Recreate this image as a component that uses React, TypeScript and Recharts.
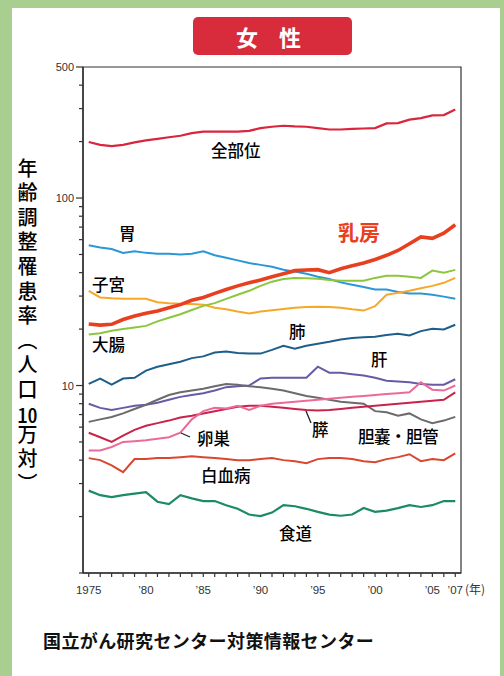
import { LineChart, Line, XAxis, YAxis, ReferenceArea } from 'recharts'

const years = [
    1975, 1976, 1977, 1978, 1979, 1980, 1981, 1982, 1983, 1984, 1985,
    1986, 1987, 1988, 1989, 1990, 1991, 1992, 1993, 1994, 1995, 1996,
    1997, 1998, 1999, 2000, 2001, 2002, 2003, 2004, 2005, 2006, 2007,
]

// 年齢調整罹患率 (人口10万対)
const allSites = [199, 192, 189, 192, 198, 203, 207, 211, 215, 222, 226, 226, 226, 226, 228, 236, 240, 243, 241, 240, 236, 232, 232, 234, 235, 236, 250, 251, 262, 267, 276, 277, 297]
const stomach = [56, 54.5, 53.5, 51, 52, 51, 50.5, 50.5, 50, 50.4, 52, 49.5, 48, 46.5, 45, 44, 43, 41.5, 40.5, 39.5, 38, 37, 35.5, 34.5, 33.5, 32.5, 32.5, 31.5, 31, 31, 30.5, 29.8, 29]
const breast = [21.3, 21, 21.2, 22.5, 23.5, 24.3, 25, 26, 27, 28.5, 29.5, 31, 32.5, 34, 35.3, 36.5, 38, 39.5, 41, 41.3, 41.5, 40, 42, 43.5, 45, 47, 49.5, 52.5, 57, 62, 61, 65, 72]
const uterus = [32, 29.5, 29.2, 29, 29, 29, 27.8, 27.5, 27.3, 27.2, 27, 26, 25.5, 24.8, 24.2, 24.8, 25.2, 25.6, 26, 26.2, 26.3, 26.2, 26, 25.5, 25.1, 26.5, 30.5, 31.2, 32, 33, 34, 35.3, 37.5]
const colon = [18.7, 19, 19.6, 20, 20.4, 20.8, 22, 23, 24, 25.3, 26.6, 27.5, 29, 30.5, 32, 34, 35.8, 37, 37.5, 37.3, 37.1, 36.5, 36.2, 36.2, 36.2, 37.5, 38.5, 38.5, 38, 37.5, 41, 40, 41.4]
const lung = [10.2, 10.9, 10.1, 10.9, 11, 12, 12.6, 13, 13.4, 14, 14.3, 15, 15.2, 14.9, 14.8, 14.8, 15.5, 16.3, 15.7, 16.3, 16.7, 17.1, 17.6, 17.9, 18.1, 18.2, 18.6, 18.9, 18.5, 19.5, 20.1, 19.9, 21.1]
const liver = [8, 7.6, 7.4, 7.6, 7.8, 7.9, 8.1, 8.4, 8.7, 8.9, 9.1, 9.4, 9.8, 9.9, 10, 10.9, 11, 11, 11, 11, 12.6, 11.7, 11.7, 11.5, 11.3, 11, 10.6, 10.5, 10.4, 10.2, 10.1, 10.1, 10.8]
const gallbladder = [6.4, 6.6, 6.8, 7.1, 7.5, 7.9, 8.4, 8.9, 9.2, 9.4, 9.6, 9.9, 10.2, 10.1, 9.9, 9.8, 9.6, 9.4, 9.1, 8.8, 8.6, 8.4, 8.2, 8.1, 8, 7.3, 7.2, 6.9, 7.1, 6.6, 6.3, 6.5, 6.8]
const pancreas = [5.6, 5.3, 5, 5.4, 5.8, 6.1, 6.3, 6.5, 6.75, 6.9, 7.1, 7.3, 7.5, 7.7, 7.8, 7.8, 7.7, 7.6, 7.5, 7.4, 7.35, 7.4, 7.5, 7.6, 7.7, 7.8, 7.9, 8, 8.1, 8.2, 8.3, 8.4, 9.2]
const ovary = [4.5, 4.5, 4.7, 5, 5.05, 5.1, 5.2, 5.3, 5.6, 6.6, 7.3, 7.6, 7.55, 7.8, 7.4, 7.8, 8, 8.1, 8.2, 8.3, 8.4, 8.5, 8.6, 8.7, 8.8, 8.9, 9, 9.1, 9.2, 10.4, 9.5, 9.4, 10]
const leukemia = [4.1, 4, 3.75, 3.45, 4.05, 4.05, 4.1, 4.1, 4.15, 4.2, 4.15, 4.1, 4.05, 4, 4, 4.05, 4.1, 4, 3.95, 3.85, 4.05, 4.1, 4.1, 4.05, 3.95, 3.9, 4.05, 4.15, 4.3, 3.95, 4.05, 4, 4.35]
const esophagus = [2.75, 2.6, 2.54, 2.6, 2.65, 2.7, 2.4, 2.33, 2.6, 2.5, 2.42, 2.42, 2.3, 2.2, 2.05, 2.01, 2.1, 2.3, 2.27, 2.2, 2.12, 2.05, 2.02, 2.05, 2.22, 2.12, 2.15, 2.22, 2.3, 2.25, 2.3, 2.42, 2.42]

const yTicks = [1, 2, 3, 4, 5, 6, 7, 8, 9, 10, 20, 30, 40, 50, 60, 70, 80, 90, 100, 200, 300, 400, 500]
const yTickLabels = [10, 100, 500]
const xTickLabels: Record<number, string> = {
    1975: '1975', 1980: '’80', 1985: '’85', 1990: '’90', 1995: '’95', 2000: '’00', 2005: '’05', 2007: '’07',
}

const series = [
    { key: 'all', name: '全部位', values: allSites, color: '#d7263d', width: 2.2 },
    { key: 'stomach', name: '胃', values: stomach, color: '#2a97d6', width: 2 },
    { key: 'uterus', name: '子宮', values: uterus, color: '#f5a82a', width: 2 },
    { key: 'colon', name: '大腸', values: colon, color: '#8cc63e', width: 2 },
    { key: 'lung', name: '肺', values: lung, color: '#1d5f8a', width: 2 },
    { key: 'liver', name: '肝', values: liver, color: '#6a5aa5', width: 2 },
    { key: 'gallbladder', name: '胆嚢・胆管', values: gallbladder, color: '#6b6b6b', width: 2 },
    { key: 'pancreas', name: '膵', values: pancreas, color: '#c9234a', width: 2 },
    { key: 'ovary', name: '卵巣', values: ovary, color: '#ec6a98', width: 2 },
    { key: 'leukemia', name: '白血病', values: leukemia, color: '#d9472f', width: 2 },
    { key: 'esophagus', name: '食道', values: esophagus, color: '#1c8a62', width: 2.2 },
    { key: 'breast', name: '乳房', values: breast, color: '#e8401e', width: 3.6 },
]

const rows = years.map((year, i) => {
    const r: Record<string, number> = { year }
    series.forEach(s => { r[s.key] = s.values[i] })
    return r
})

const jp = '"Noto Sans CJK JP", "Noto Sans", sans-serif'

function YTick({ x, y, payload }: any) {
    const major = yTickLabels.includes(payload.value)
    const len = major ? 7 : 4
    return (
        <g>
            <line x1={x - len} x2={x} y1={y} y2={y} stroke="#333" strokeWidth={1.2} />
            {major && (
                <text x={x - len - 2} y={y} dy={4} textAnchor="end" fontSize={11} fill="#333" fontFamily="Liberation Sans, Arial">
                    {payload.value}
                </text>
            )}
        </g>
    )
}

function XTick({ x, y, payload }: any) {
    const label = xTickLabels[payload.value]
    return (
        <g>
            <line x1={x} x2={x} y1={y} y2={y + 4} stroke="#333" strokeWidth={1.2} />
            {label && (
                <text x={x} y={y + 21} textAnchor="middle" fontSize={11.5} fill="#333" fontFamily="Liberation Sans, Arial">
                    {label}
                </text>
            )}
        </g>
    )
}

const labels = [
    { text: '全部位', left: 211, top: 142 },
    { text: '胃', left: 119, top: 225 },
    { text: '子宮', left: 92, top: 276 },
    { text: '大腸', left: 92, top: 336 },
    { text: '肺', left: 289, top: 323 },
    { text: '肝', left: 371, top: 351 },
    { text: '卵巣', left: 197, top: 430 },
    { text: '膵', left: 312, top: 421 },
    { text: '胆嚢・胆管', left: 358, top: 428 },
    { text: '白血病', left: 201, top: 467 },
    { text: '食道', left: 279, top: 525 },
]

export default function App() {
    return (
        <div style={{ position: 'absolute', left: 0, top: 0, width: 504, height: 676, background: '#a8ce90', overflow: 'hidden' }}>
            <div style={{ position: 'absolute', left: 12, top: 8, right: 4, bottom: 0, background: '#fff' }} />
            <div style={{ position: 'absolute', left: 0, top: 0 }}>
                <LineChart width={504} height={676} data={rows} margin={{ top: 67, right: 43, bottom: 73, left: 43 }}>
                    <XAxis
                        dataKey="year"
                        type="number"
                        domain={[1974.5, 2007.5]}
                        allowDataOverflow
                        ticks={years}
                        interval={0}
                        height={30}
                        tickSize={0}
                        tickMargin={0}
                        tickLine={false}
                        axisLine={{ stroke: '#333', strokeWidth: 1.5 }}
                        tick={<XTick />}
                    />
                    <YAxis
                        scale="log"
                        type="number"
                        domain={[1, 500]}
                        allowDataOverflow
                        ticks={yTicks}
                        interval={0}
                        width={40}
                        tickSize={0}
                        tickMargin={0}
                        tickLine={false}
                        axisLine={{ stroke: '#333', strokeWidth: 1.5 }}
                        tick={<YTick />}
                    />
                    <ReferenceArea x1={1974.5} x2={2007.5} y1={1} y2={500} fill="none" stroke="#333" strokeWidth={1.2} />
                    {series.map(s => (
                        <Line
                            key={s.key}
                            dataKey={s.key}
                            name={s.name}
                            type="linear"
                            stroke={s.color}
                            strokeWidth={s.width}
                            dot={false}
                            isAnimationActive={false}
                        />
                    ))}
                </LineChart>
            </div>

            <div style={{ position: 'absolute', left: 193, top: 17, width: 159, height: 38, background: '#d82c3c', borderRadius: 5, color: '#fff', fontFamily: jp, fontSize: 22, fontWeight: 'bold', lineHeight: '38px', textAlign: 'center', letterSpacing: 8 }}>
                女 性
            </div>

            <div style={{ position: 'absolute', left: 15, top: 158, writingMode: 'vertical-rl', fontFamily: jp, fontSize: 20, fontWeight: 500, lineHeight: '24px', letterSpacing: 4.6, color: '#000' }}>
                年齢調整罹患率（人口<span style={{ textCombineUpright: 'all' } as any}>10</span>万対）
            </div>

            {labels.map(l => (
                <div key={l.text} style={{ position: 'absolute', left: l.left, top: l.top, fontFamily: jp, fontSize: 16.5, fontWeight: 500, lineHeight: 1, color: '#000', whiteSpace: 'nowrap', letterSpacing: l.text.length > 3 ? -0.5 : 0 }}>
                    {l.text}
                </div>
            ))}
            <div style={{ position: 'absolute', left: 338, top: 221, fontFamily: jp, fontSize: 21, fontWeight: 'bold', lineHeight: 1, color: '#e8401e' }}>
                乳房
            </div>

            <svg width={504} height={676} style={{ position: 'absolute', left: 0, top: 0, pointerEvents: 'none' }}>
                <line x1={181} y1={433} x2={190} y2={437} stroke="#222" strokeWidth={1.3} />
                <line x1={306} y1={411} x2={311} y2={423} stroke="#222" strokeWidth={1.3} />
            </svg>

            <div style={{ position: 'absolute', left: 465, top: 583, fontFamily: jp, fontSize: 12, lineHeight: 1, color: '#333' }}>
                (年)
            </div>

            <div style={{ position: 'absolute', left: 43, top: 631, fontFamily: jp, fontSize: 18, fontWeight: 'bold', lineHeight: 1, color: '#111', letterSpacing: 0.4 }}>
                国立がん研究センター対策情報センター
            </div>
        </div>
    )
}
